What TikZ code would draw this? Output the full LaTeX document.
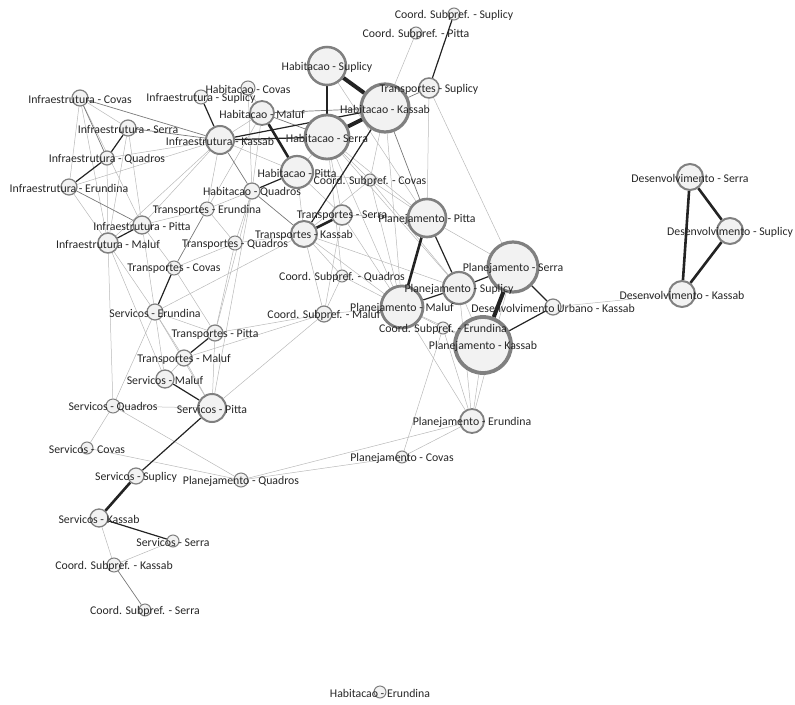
\documentclass[tikz,border=0pt]{standalone}
\usepackage{fontspec}
\setmainfont{Carlito}
\usetikzlibrary{backgrounds}
\definecolor{nodefill}{RGB}{242,242,242}
\definecolor{nodeline}{RGB}{128,128,128}
\definecolor{edgelight}{RGB}{185,185,185}
\definecolor{edgemid}{RGB}{120,120,120}
\definecolor{edgedark}{RGB}{35,35,35}

% vertices: name/x/y/radius/border/label (pixel coordinates)
\def\vertices{csup/454/14/6/1/Coord. Subpref. - Suplicy,
  cpit/416/33/6/1/Coord. Subpref. - Pitta,
  hsup/327/66/19/2.5/Habitacao - Suplicy,
  tsup/429/88/10/1.5/Transportes - Suplicy,
  hkas/385/108/24/3.2/Habitacao - Kassab,
  hcov/248/88/7/1/Habitacao - Covas,
  isup/201/97/7/1/Infraestrutura - Suplicy,
  icov/80/98/8/1.2/Infraestrutura - Covas,
  hmal/262/113/12/1.8/Habitacao - Maluf,
  hser/327/137/22/2.8/Habitacao - Serra,
  iser/128/128/8/1.2/Infraestrutura - Serra,
  ikas/220/140/14/2/Infraestrutura - Kassab,
  iqua/107/158/7/1.2/Infraestrutura - Quadros,
  hpit/297/172/16/2.2/Habitacao - Pitta,
  ccov/370/180/6/1/Coord. Subpref. - Covas,
  iern/69/187/8/1.2/Infraestrutura - Erundina,
  hqua/252/191/8/1.2/Habitacao - Quadros,
  tern/207/209/7/1/Transportes - Erundina,
  tser/342/215/10/1.5/Transportes - Serra,
  ppit/427/218/19/2.6/Planejamento - Pitta,
  ipit/142/225/9/1.3/Infraestrutura - Pitta,
  tkas/304/234/13/2/Transportes - Kassab,
  imal/108/243/10/1.5/Infraestrutura - Maluf,
  tqua/235/243/7/1/Transportes - Quadros,
  pser/513/267/25/3.2/Planejamento - Serra,
  tcov/174/268/7/1/Transportes - Covas,
  cqua/342/276/6/1/Coord. Subpref. - Quadros,
  psup/459/288/16/2.2/Planejamento - Suplicy,
  pmal/402/307/21/2.8/Planejamento - Maluf,
  durb/553/307/8/1.2/Desenvolvimento Urbano - Kassab,
  sern/155/312/8/1.2/Servicos - Erundina,
  cmal/324/314/8/1.2/Coord. Subpref. - Maluf,
  cern/443/328/6/1/Coord. Subpref. - Erundina,
  tpit/215/333/8/1.2/Transportes - Pitta,
  pkas/483/345/28/3.8/Planejamento - Kassab,
  tmal/184/358/8/1.2/Transportes - Maluf,
  smal/165/379/9/1.3/Servicos - Maluf,
  squa/113/406/7/1/Servicos - Quadros,
  spit/212/408/14/2/Servicos - Pitta,
  pern/472/421/12/1.8/Planejamento - Erundina,
  scov/87/448/6/1/Servicos - Covas,
  pcov/402/457/6/1/Planejamento - Covas,
  ssup/136/476/8/1.2/Servicos - Suplicy,
  pqua/241/480/7/1/Planejamento - Quadros,
  skas/99/518/9/1.3/Servicos - Kassab,
  sser/173/541/6/1/Servicos - Serra,
  ckas/114/565/7/1/Coord. Subpref. - Kassab,
  cser/145/610/6/1/Coord. Subpref. - Serra,
  dser/690/177/13/2/Desenvolvimento - Serra,
  dsup/730/231/13/2/Desenvolvimento - Suplicy,
  dkas/682/294/13/2/Desenvolvimento - Kassab,
  hern/380/692/6/1/Habitacao - Erundina}

\begin{document}
\begin{tikzpicture}[x=1pt, y=-1pt,
    vert/.style={circle, fill=nodefill, draw=nodeline, inner sep=0pt},
    lbl/.style={font=\fontsize{11.8}{13}\selectfont, text=black!85, inner sep=0pt, yshift=-1pt},
    wfaint/.style={edgelight, line width=0.5pt},
    wmid/.style={edgemid, line width=0.7pt},
    wdark/.style={edgedark, line width=1.2pt},
    wheavy/.style={edgedark, line width=2.6pt},
    wmax/.style={edgedark, line width=4pt},
  ]
  \useasboundingbox (0,0) rectangle (795,704);

  % circles
  \foreach \n/\x/\y/\r/\bw/\t in \vertices
    \node[vert, minimum size={2*\r pt}, line width=\bw pt] (\n) at (\x,\y) {};

  \begin{scope}[on background layer]
    % faint links
    \foreach \src/\dst in {icov/iser, icov/iern, icov/ipit, icov/imal, iser/ipit, iser/imal,
        iqua/ikas, iqua/imal, iern/ikas, iern/imal, ipit/ikas, imal/ikas, ikas/hmal, ikas/hpit,
        ikas/tern, hcov/hqua, hcov/hpit, hmal/hqua, hmal/tern, hqua/tern, hpit/hser, hpit/tser,
        hpit/tkas, hpit/ccov, hkas/ccov, hkas/pmal, cpit/hkas, hser/ccov, hser/tser, hser/ppit,
        hser/psup, hser/pmal, hser/cqua, hsup/ppit, tsup/ppit, tsup/pser, ccov/tkas, ccov/ppit,
        ccov/pmal, ccov/psup, tkas/tqua, tkas/sern, tkas/cmal, tkas/cqua, tkas/pmal, tkas/psup,
        tser/ppit, tser/pmal, tser/cmal, tern/tqua, tern/ipit, tqua/tpit, tqua/tcov, tqua/hqua,
        tcov/ipit, tcov/tpit, sern/ipit, sern/imal, sern/tpit, sern/tmal, sern/smal, sern/squa,
        sern/spit, tpit/cmal, tpit/spit, tpit/hqua, tmal/smal, tmal/spit, tmal/cmal, smal/imal,
        spit/squa, spit/cmal, spit/hqua, squa/scov, squa/imal, squa/pqua, scov/pqua, skas/ckas,
        sser/ckas, pqua/pern, pqua/pcov, pcov/pern, pcov/cern, pern/pkas, pern/pser, pern/psup,
        pern/pmal, pern/cern, ppit/pser, psup/pkas, pmal/cern, pmal/cmal, pmal/cqua, pmal/pkas,
        cern/pkas, durb/dkas, cmal/cqua}
      \draw[wfaint] (\src) -- (\dst);
    % medium links
    \foreach \src/\dst in {icov/ikas, iser/ikas, icov/iqua, iern/ipit, ikas/hqua, hmal/hser,
        hmal/hkas, hkas/tsup, hkas/ppit, tern/tcov, ckas/cser, hqua/tkas}
      \draw[wmid] (\src) -- (\dst);
    % dark links
    \foreach \src/\dst in {iser/iqua, iqua/iern, ipit/imal, isup/ikas, ikas/hser, ikas/hkas,
        hsup/hser, hqua/hpit, hkas/tkas, tsup/csup, tcov/sern, tpit/tmal, smal/spit, spit/ssup,
        skas/sser, ppit/psup, pmal/psup, psup/pser, pser/durb, pkas/durb}
      \draw[wdark] (\src) -- (\dst);
    % heavy links
    \foreach \src/\dst in {hmal/hpit, ppit/pmal, tkas/tser, ssup/skas, dser/dsup, dser/dkas,
        dsup/dkas}
      \draw[wheavy] (\src) -- (\dst);
    \foreach \src/\dst in {hsup/hkas, hser/hkas, pser/pkas}
      \draw[wmax] (\src) -- (\dst);
  \end{scope}

  % labels on top
  \foreach \n/\x/\y/\r/\bw/\t in \vertices
    \node[lbl] (\n-t) at (\n) {\t};
\end{tikzpicture}
\end{document}
